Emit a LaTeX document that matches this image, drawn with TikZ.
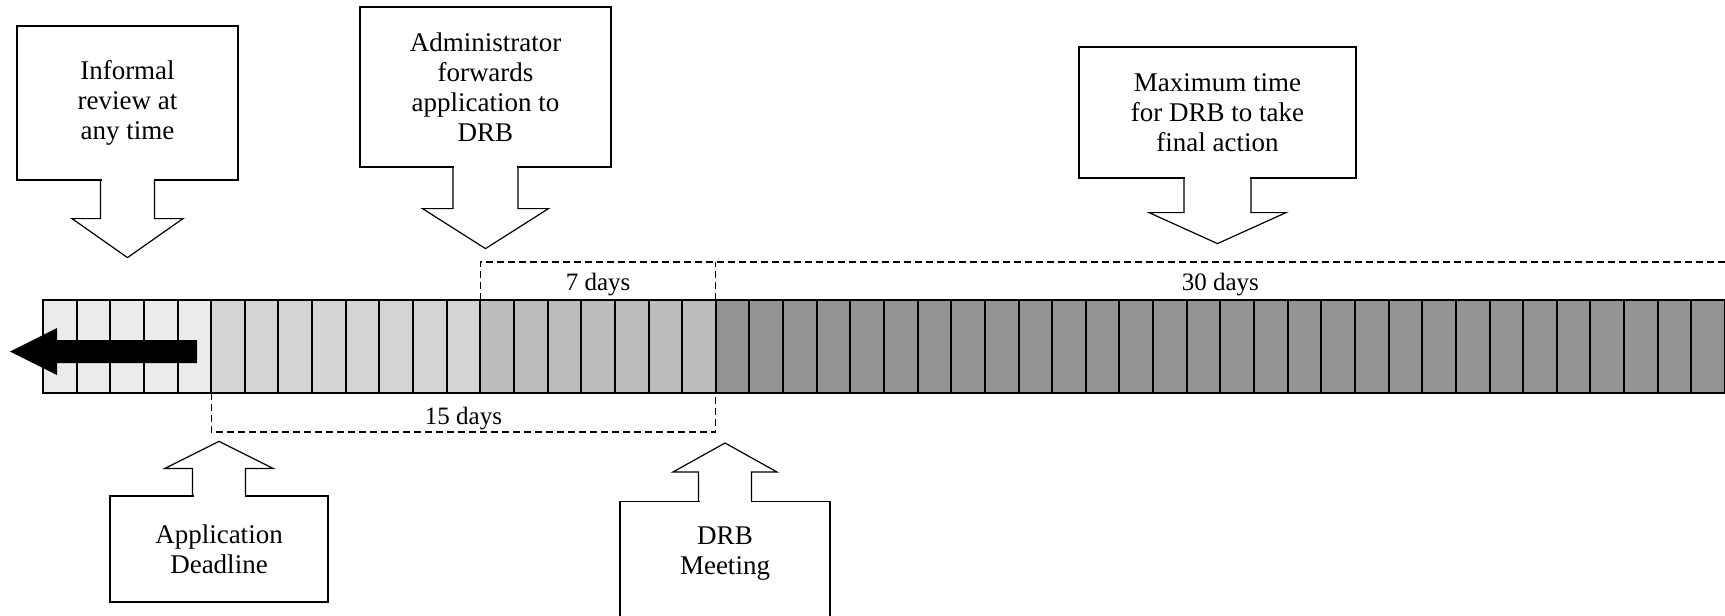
\documentclass[tikz,border=0pt]{standalone}
\usepackage{fontspec}
\setmainfont{Liberation Serif}
\usetikzlibrary{positioning,calc}
\newcommand{\boxfont}{\fontsize{27}{30}\selectfont}
\newcommand{\dayfont}{\fontsize{25}{30}\selectfont}
\tikzset{
  call box/.style={draw, line width=1.2pt, align=center, inner sep=0pt, font=\boxfont},
  call text/.style={align=center, inner sep=0pt, font=\boxfont},
  call line/.style={draw, line width=1.2pt, line join=miter},
  day cell/.style={draw, line width=2pt, minimum width=33.64pt, minimum height=93pt, inner sep=0pt, outer sep=0pt},
  day bracket/.style={line width=1.3pt, dash pattern=on 7pt off 4pt},
  day label/.style={font=\dayfont, inner sep=0pt}
}
% block arrow on a box: anchor, stem half width, head half width, stem length, head length, direction (1 down, -1 up)
\newcommand{\callarrow}[6]{%
  \draw[white, line width=2.4pt] ([xshift={(1-#2)*1pt}]#1) -- ([xshift={(#2-1)*1pt}]#1);
  \draw[call line] ([xshift={-#2*1pt}]#1) -- ++(0,{#6*#4}) -- ++({#2-#3},0) -- ++(#3,{#6*#5}) -- ++(#3,{-(#6)*#5}) -- ++({#2-#3},0) -- ++(0,{-(#6)*#4});
}

\begin{document}
\begin{tikzpicture}[x=1pt,y=-1pt]
    \useasboundingbox (0,0) rectangle (1725,616);
    \clip (0,0) rectangle (1725,616);

    % Day cells
    \foreach \first/\last/\tone in {0/4/8, 5/12/17, 13/19/26, 20/49/42}
      \foreach \i in {\first,...,\last}
        \node[day cell, fill=black!\tone] (c\i) at ({43+33.64*(\i+0.5)},346.5) {};
    \draw[line width=2.8pt] (c0.north west) rectangle (c49.south east);

    % Back arrow
    \fill (10,351.5) -- (57,328) -- (57,340) -- (197,340) -- (197,363) -- (57,363) -- (57,375) -- cycle;

    % Day spans
    \draw[day bracket] (c13.north west) -- ++(0,-38) -- ($(c49.north east)+(0,-38)$);
    \draw[day bracket] (c20.north west) -- ++(0,-38);
    \draw[day bracket] (c5.south west) -- ++(0,39) -| (c19.south east);
    \node[day label] (seven) at ($(c13.north west)!0.5!(c19.north east)+(0,-15)$) {7 days};
    \node[day label] (thirty) at ($(c20.north west)!0.5!(c49.north east)+(0,-15)$) {30 days};
    \node[day label] (fifteen) at ($(c5.south west)!0.5!(c19.south east)+(0,26)$) {15 days};

    % Events above
    \node[call box, minimum width=221pt, minimum height=154pt] (informal) at (127.5,103) {Informal\\review at\\any time};
    \callarrow{informal.south}{27}{55.5}{38}{39}{1}
    \node[call box, minimum width=251pt, minimum height=160pt] (admin) at (485.5,87) {Administrator\\forwards\\application to\\DRB};
    \callarrow{admin.south}{32.5}{63}{41}{40}{1}
    \node[call box, minimum width=277pt, minimum height=131pt] (maxtime) at (1217.5,112.5) {Maximum time\\for DRB to take\\final action};
    \callarrow{maxtime.south}{33.5}{68.5}{34}{31}{1}

    % Events below
    \node[call box, minimum width=218pt, minimum height=106pt] (deadline) at (219,549) {Application\\Deadline};
    \callarrow{deadline.north}{26.5}{54}{27}{27}{-1}
    \node[call box, minimum width=210pt, minimum height=140pt, anchor=north] (meeting) at (725,501) {};
    \node[call text, below=26pt of meeting.north] (meetingtext) {DRB\\Meeting};
    \callarrow{meeting.north}{26.5}{52}{29}{29}{-1}
\end{tikzpicture}
\end{document}
